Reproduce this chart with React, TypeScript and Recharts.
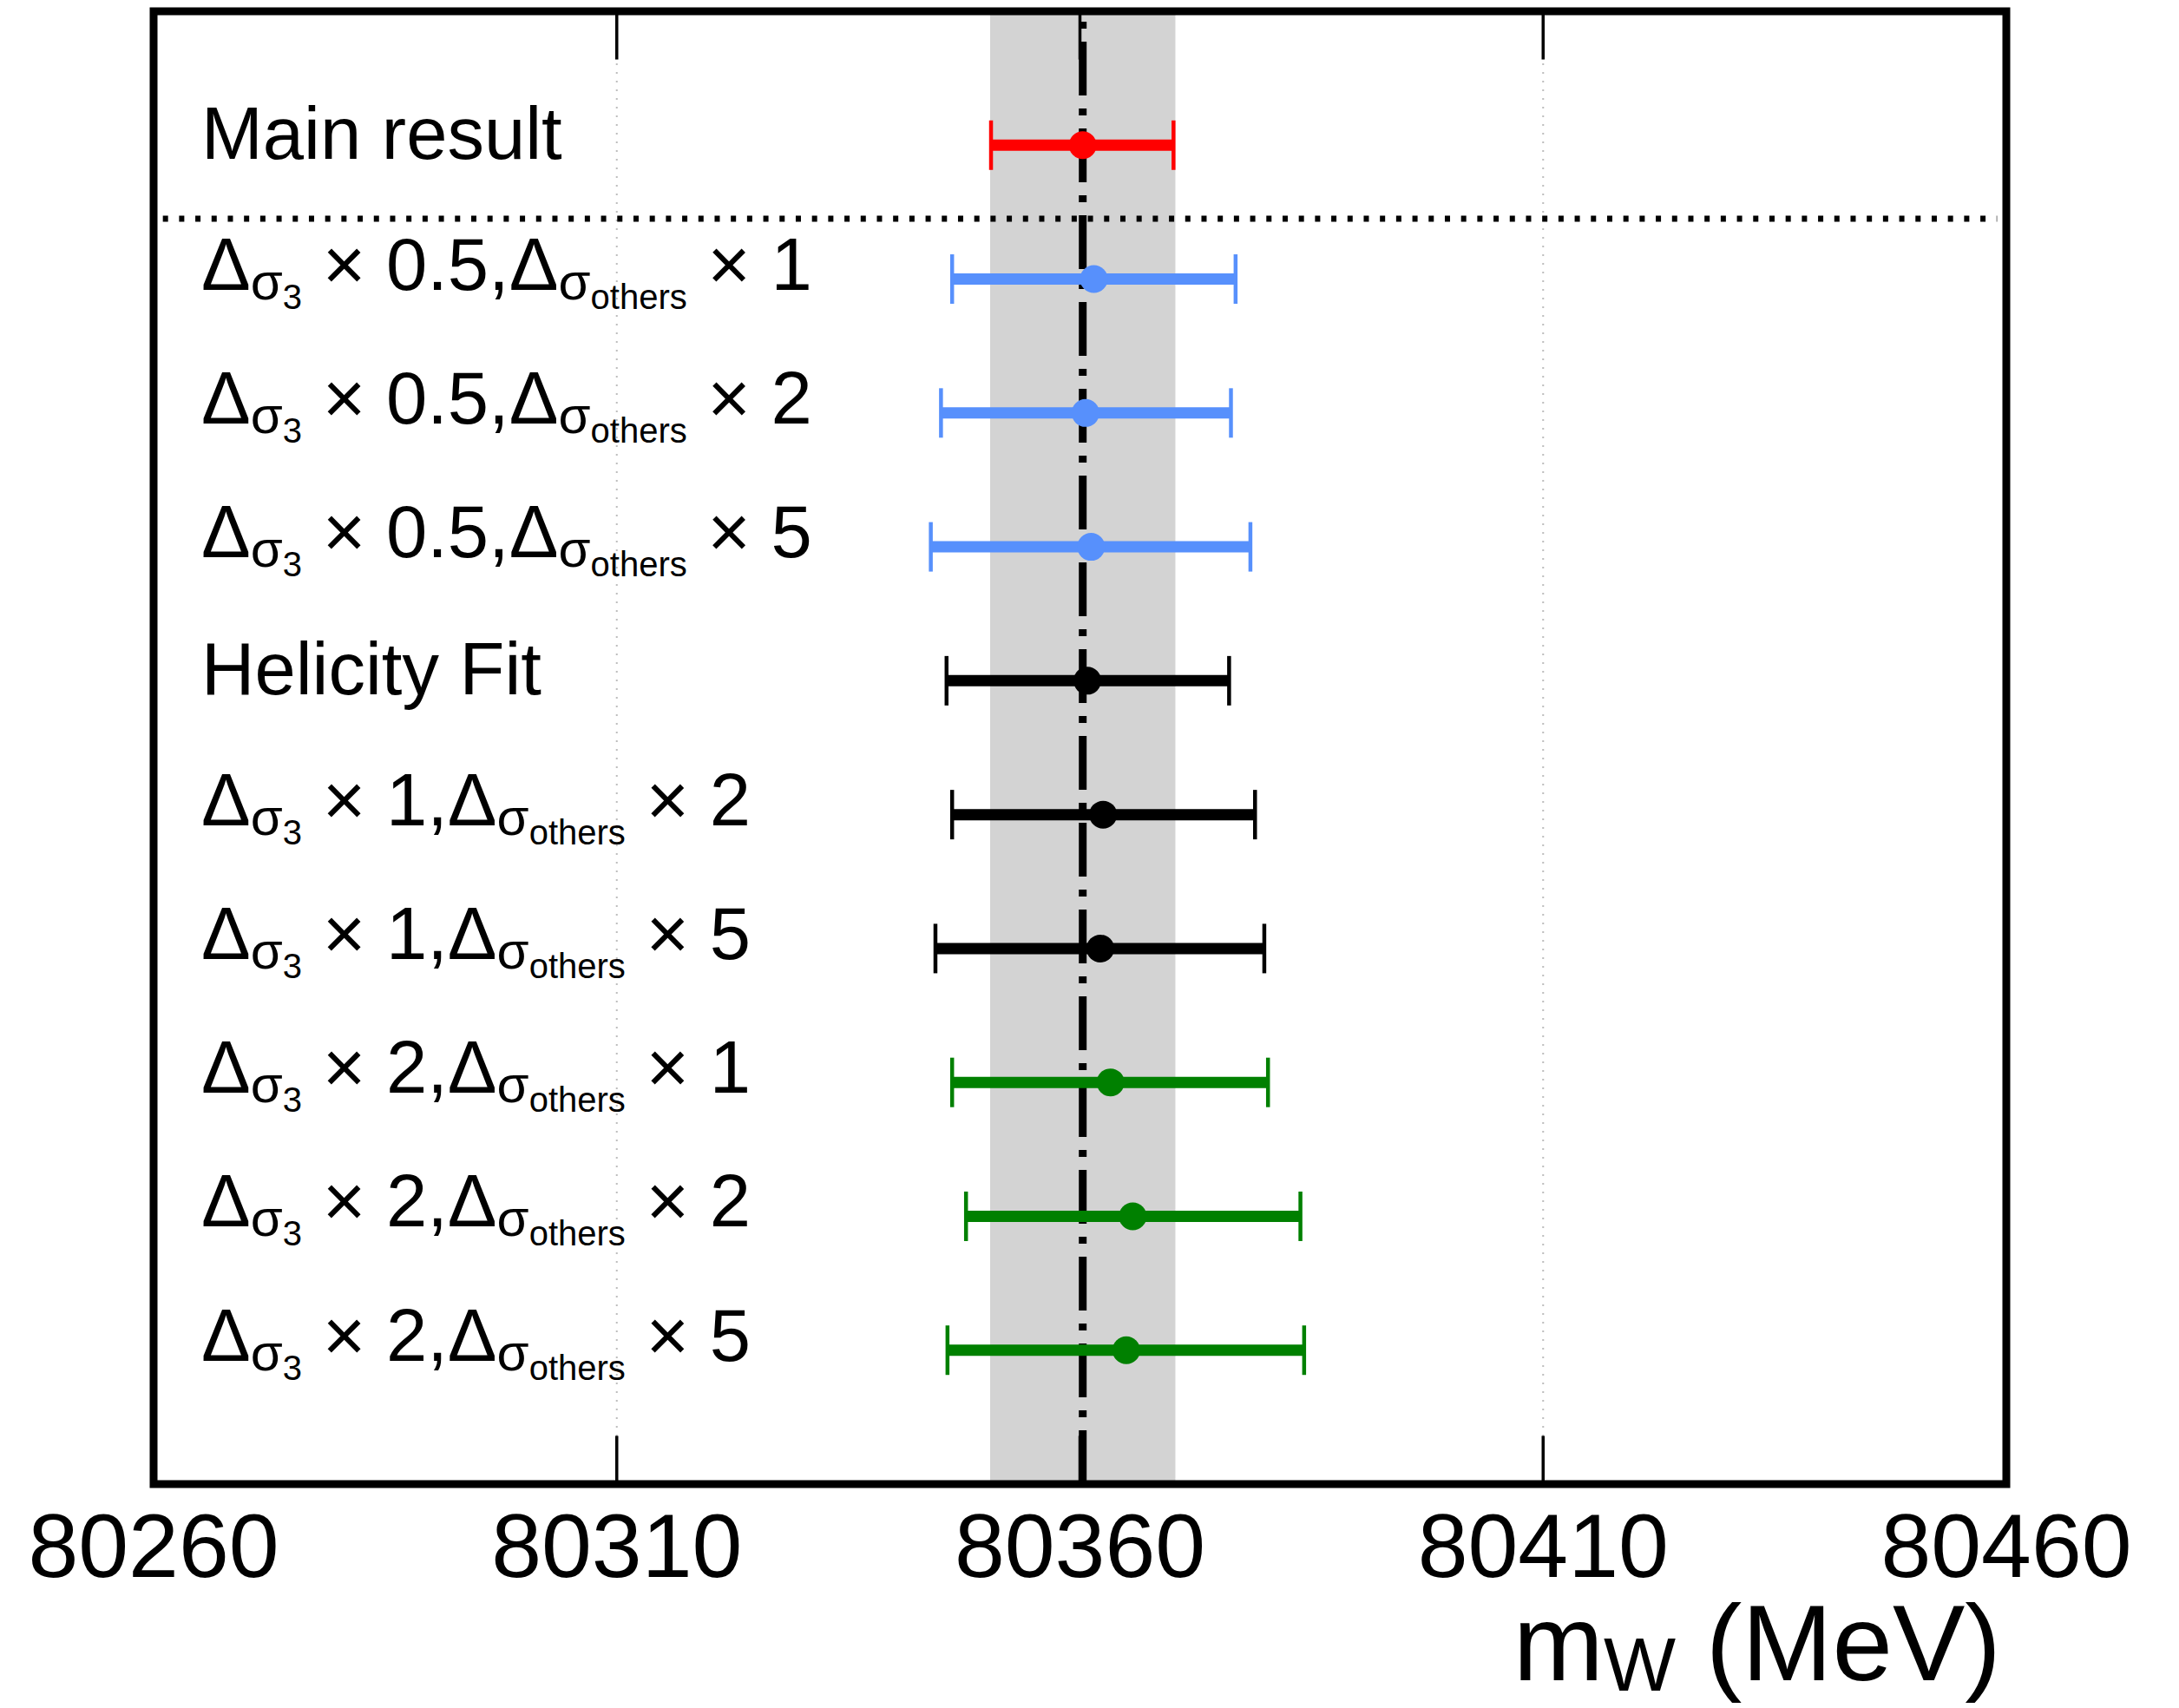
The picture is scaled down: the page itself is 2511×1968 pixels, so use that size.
import React from "react";
import {
  CartesianGrid,
  ErrorBar,
  ReferenceArea,
  ReferenceLine,
  Scatter,
  ScatterChart,
  XAxis,
  YAxis,
} from "recharts";

// rows from top to bottom
const rowLabels = [
  "Main result",
  "Δσ3 × 0.5,Δσothers × 1",
  "Δσ3 × 0.5,Δσothers × 2",
  "Δσ3 × 0.5,Δσothers × 5",
  "Helicity Fit",
  "Δσ3 × 1,Δσothers × 2",
  "Δσ3 × 1,Δσothers × 5",
  "Δσ3 × 2,Δσothers × 1",
  "Δσ3 × 2,Δσothers × 2",
  "Δσ3 × 2,Δσothers × 5",
];
const rowGroup = ["main", "blue", "blue", "blue", "black", "black", "black", "green", "green", "green"];
const mW = [80360.3, 80361.5, 80360.6, 80361.2, 80360.8, 80362.5, 80362.2, 80363.3, 80365.7, 80365.0];
const mWLow = [80350.4, 80346.2, 80345.0, 80343.9, 80345.6, 80346.2, 80344.4, 80346.2, 80347.7, 80345.7];
const mWHigh = [80370.1, 80376.8, 80376.3, 80378.4, 80376.1, 80378.9, 80379.9, 80380.3, 80383.8, 80384.2];

const xTicks = [80260, 80310, 80360, 80410, 80460];
const mWRef = 80360.3;
const bandLow = 80350.3;
const bandHigh = 80370.3;
const separatorY = 1.55;

const groupColor: Record<string, string> = {
  main: "#ff0000",
  blue: "#5790fc",
  black: "#000000",
  green: "#008000",
};
const FONT = '"Liberation Sans", Arial, Helvetica, sans-serif';
const TICK_LEN = 0.36; // in row units

const points = mW.map((v, i) => ({
  x: v,
  y: i + 1,
  err: [v - mWLow[i], mWHigh[i] - v],
  group: rowGroup[i],
}));
const groups = ["main", "blue", "black", "green"];

const RowLabel = (props: any) => {
  const { x, y, payload } = props;
  const label = rowLabels[payload.value - 1];
  if (!label) return <g />;
  const tx = x + 55;
  const m = label.match(/^Δσ3 × (.+),Δσothers × (.+)$/);
  if (!m) {
    return (
      <text x={tx} y={y + 16} fontSize={85} fontFamily={FONT} fill="#000">
        {label}
      </text>
    );
  }
  return (
    <text x={tx} y={y + 12} fontSize={85} fontFamily={FONT} fill="#000">
      <tspan>Δ</tspan>
      <tspan fontSize={60} dy={11}>σ</tspan>
      <tspan fontSize={40} dy={11}>3</tspan>
      <tspan fontSize={85} dy={-22}>{` × ${m[1]},Δ`}</tspan>
      <tspan fontSize={60} dy={11}>σ</tspan>
      <tspan fontSize={40} dy={11}>others</tspan>
      <tspan fontSize={85} dy={-22}>{` × ${m[2]}`}</tspan>
    </text>
  );
};

const XTick = (props: any) => (
  <text
    x={props.x}
    y={props.y + 107}
    textAnchor="middle"
    fontSize={104}
    fontFamily={FONT}
    fill="#000"
  >
    {props.payload.value}
  </text>
);

const AxisTitle = (props: any) => {
  const vb = props.viewBox;
  return (
    <text
      x={vb.x + vb.width - 6}
      y={vb.y + 226}
      textAnchor="end"
      fontSize={125}
      fontFamily={FONT}
      fill="#000"
    >
      <tspan>m</tspan>
      <tspan fontSize={88} dy={12}>W</tspan>
      <tspan fontSize={125} dy={-12}> (MeV)</tspan>
    </text>
  );
};

const Dot = (color: string) => (props: any) =>
  <circle cx={props.cx} cy={props.cy} r={16} fill={color} />;

export default function App() {
  return (
    <div style={{ position: "absolute", left: 0, top: 0, width: 2511, height: 1968, background: "#fff" }}>
      <ScatterChart
        width={2511}
        height={1968}
        margin={{ top: 13, right: 199, bottom: 0, left: 0 }}
      >
        <CartesianGrid
          horizontal={false}
          stroke="#bdbdbd"
          strokeWidth={2}
          strokeDasharray="2 8"
        />
        <XAxis
          type="number"
          dataKey="x"
          domain={[80260, 80460]}
          ticks={xTicks}
          interval={0}
          allowDataOverflow
          height={258}
          axisLine={false}
          tickLine={false}
          tickSize={0}
          tickMargin={0}
          tick={<XTick />}
          label={{ content: (p: any) => <AxisTitle {...p} /> }}
        />
        <YAxis
          type="number"
          dataKey="y"
          domain={[0, 11]}
          reversed
          ticks={[1, 2, 3, 4, 5, 6, 7, 8, 9, 10]}
          interval={0}
          width={177}
          axisLine={false}
          tickLine={false}
          tickSize={0}
          tickMargin={0}
          tick={<RowLabel />}
        />
        <ReferenceArea
          x1={bandLow}
          x2={bandHigh}
          y1={0}
          y2={11}
          fill="#d3d3d3"
          fillOpacity={1}
          stroke="none"
        />
        <ReferenceLine
          x={mWRef}
          stroke="#000"
          strokeWidth={9}
          strokeDasharray="62 15 8 15"
        />
        <ReferenceLine
          segment={[
            { x: 80261, y: separatorY },
            { x: 80459, y: separatorY },
          ]}
          stroke="#000"
          strokeWidth={7}
          strokeDasharray="6 12.7"
        />
        {xTicks.slice(1, -1).map((t) => (
          <ReferenceLine
            key={"b" + t}
            segment={[
              { x: t, y: 11 },
              { x: t, y: 11 - TICK_LEN },
            ]}
            stroke="#000"
            strokeWidth={3.5}
          />
        ))}
        {xTicks.slice(1, -1).map((t) => (
          <ReferenceLine
            key={"t" + t}
            segment={[
              { x: t, y: 0 },
              { x: t, y: TICK_LEN },
            ]}
            stroke="#000"
            strokeWidth={3.5}
          />
        ))}
        <ReferenceArea
          x1={80260}
          x2={80460}
          y1={0}
          y2={11}
          fill="none"
          stroke="#000"
          strokeWidth={9}
        />
        {groups.map((g) => (
          <Scatter
            key={g}
            data={points.filter((p) => p.group === g)}
            shape={Dot(groupColor[g])}
            isAnimationActive={false}
          >
            <ErrorBar
              dataKey="err"
              direction="x"
              stroke={groupColor[g]}
              strokeWidth={13}
              width={0}
              isAnimationActive={false}
            />
            <ErrorBar
              dataKey="err"
              direction="x"
              stroke={groupColor[g]}
              strokeWidth={4.5}
              width={28.5}
              isAnimationActive={false}
            />
          </Scatter>
        ))}
      </ScatterChart>
    </div>
  );
}
